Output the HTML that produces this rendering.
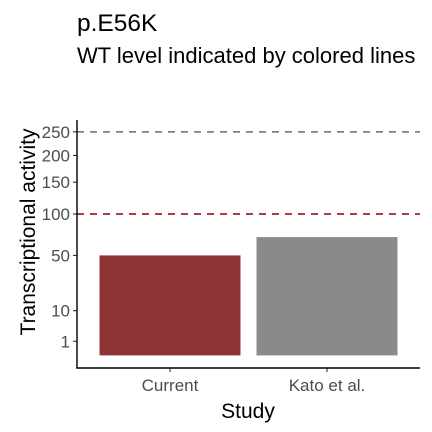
<!DOCTYPE html>
<html><head><meta charset="utf-8"><style>
body{margin:0;background:#fff;}
svg{display:block;font-family:"Liberation Sans",Arial,sans-serif;}
</style></head><body>
<svg id="chart" width="432" height="432">
<text x="77" y="31" font-size="24.5" fill="#000">p.E56K</text>
<text x="77" y="63" font-size="22" fill="#000">WT level indicated by colored lines</text>
<g id="ref"></g>
<g id="bars"></g>
<g id="yaxis"></g>
<g id="xaxis"></g>
<line x1="77" y1="120" x2="77" y2="368.5" stroke="#000" stroke-width="1.4"/>
<line x1="76.3" y1="368" x2="420" y2="368" stroke="#000" stroke-width="1.4"/>
<text x="248" y="418" font-size="21" text-anchor="middle">Study</text>
<text transform="translate(35,232) rotate(-90)" font-size="21" text-anchor="middle">Transcriptional activity</text>
</svg>
<script>
const categories=["Current","Kato et al."];
const values=[50,70];
const barColors=["#8f3335","#8a8a8a"];
const yTicks=[1,10,50,100,150,200,250];
const refLevels=[100,250];
const refColors=["#8b0000","#6e6e6e"];
const NS="http://www.w3.org/2000/svg";
const y0=355.4,k=14.14;
function y(v){return y0-Math.sqrt(v)*k;}
const step=157,first=170,bw=141;
function x(i){return first+i*step;}
function mk(t,a,p){const e=document.createElementNS(NS,t);for(const q in a)e.setAttribute(q,a[q]);p.appendChild(e);return e;}
const ref=document.getElementById('ref');
refLevels.forEach((v,i)=>{const l=mk('line',{x1:77,x2:420,y1:y(v),y2:y(v),stroke:refColors[i],'stroke-width':1.5,'stroke-dasharray':'7,6'},ref);

});
const bars=document.getElementById('bars');
categories.forEach((c,i)=>{const r=mk('rect',{x:x(i)-bw/2,y:y(values[i]),width:bw,height:y0-y(values[i]),fill:barColors[i]},bars);

});
const ya=document.getElementById('yaxis');
yTicks.forEach(v=>{const l=mk('line',{x1:73,x2:77,y1:y(v),y2:y(v),stroke:'#333','stroke-width':1.1},ya);


const t=mk('text',{x:70,y:y(v)+6,'font-size':17,'text-anchor':'end',fill:'#4d4d4d'},ya);t.textContent=v;

});
const xa=document.getElementById('xaxis');
categories.forEach((c,i)=>{const l=mk('line',{x1:x(i),x2:x(i),y1:368,y2:372,stroke:'#333','stroke-width':1.1},xa);


const t=mk('text',{x:x(i),y:391,'font-size':17,'text-anchor':'middle',fill:'#4d4d4d'},xa);t.textContent=c;

});
</script>
</body></html>
